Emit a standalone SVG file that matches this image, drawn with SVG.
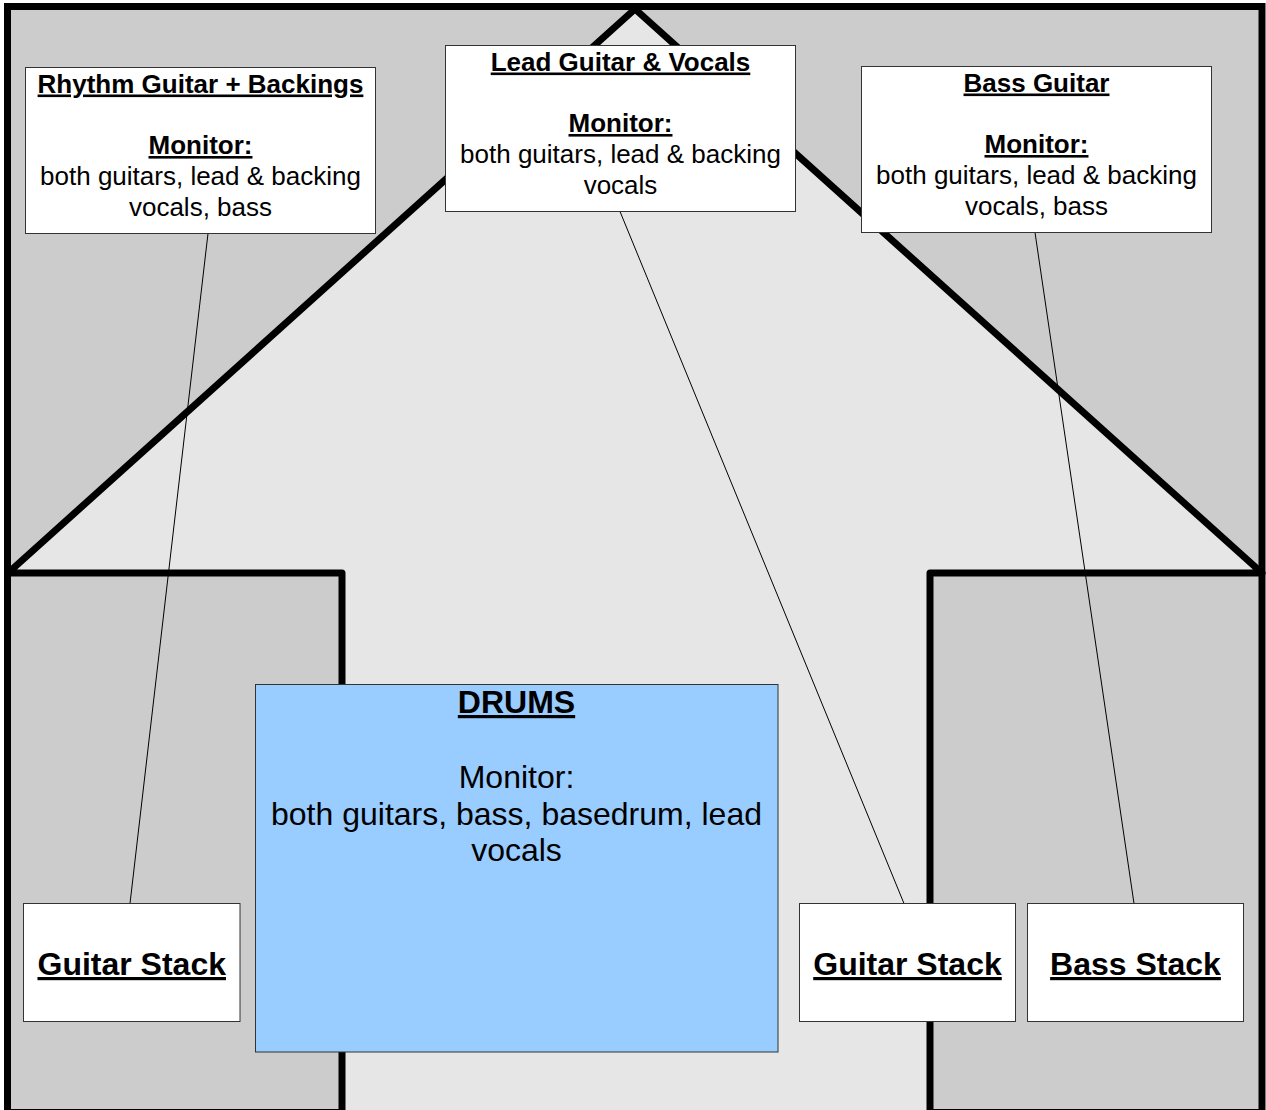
<svg xmlns="http://www.w3.org/2000/svg" width="1266" height="1110" viewBox="0 0 1266 1110">
<style>
.box{fill:#ffffff;stroke:#333333;stroke-width:1}
.drums{fill:#99ccff;stroke:#333333;stroke-width:1}
.t{font-family:"Liberation Sans",Arial,sans-serif;fill:#000000;text-anchor:middle}
.s{font-size:26px}
.b{font-weight:bold;text-decoration:underline}
.d{font-size:32px}
.g{font-size:32px}
.conn{stroke:#000000;stroke-width:1;fill:none}
</style>
<rect x="0" y="0" width="1266" height="1110" fill="#ffffff"/>
<g id="stage">
<rect x="7.5" y="6.5" width="1254.5" height="1106" fill="#cccccc" stroke="#000000" stroke-width="7"/>
<polygon points="635,9 1262,573 930,573 930,1115 342,1115 342,573 8,573" fill="#e6e6e6" stroke="#000000" stroke-width="7" stroke-linejoin="round"/>
</g>
<g id="connectors">
<line class="conn" x1="208" y1="233.5" x2="130" y2="903.5"/>
<line class="conn" x1="620" y1="211.5" x2="904" y2="903.5"/>
<line class="conn" x1="1035" y1="232.5" x2="1134" y2="903.5"/>
</g>
<g id="rhythm">
<rect class="box" x="25.5" y="67.5" width="350" height="166"/>
<text class="t s b" x="200.5" y="92.5">Rhythm Guitar + Backings</text>
<text class="t s b" x="200.5" y="154">Monitor:</text>
<text class="t s" x="200.5" y="185">both guitars, lead &amp; backing</text>
<text class="t s" x="200.5" y="215.5">vocals, bass</text>
</g>
<g id="lead">
<rect class="box" x="445.5" y="45.5" width="350" height="166"/>
<text class="t s b" x="620.5" y="70.5">Lead Guitar &amp; Vocals</text>
<text class="t s b" x="620.5" y="132">Monitor:</text>
<text class="t s" x="620.5" y="163">both guitars, lead &amp; backing</text>
<text class="t s" x="620.5" y="193.5">vocals</text>
</g>
<g id="bass">
<rect class="box" x="861.5" y="66.5" width="350" height="166"/>
<text class="t s b" x="1036.5" y="91.5">Bass Guitar</text>
<text class="t s b" x="1036.5" y="153">Monitor:</text>
<text class="t s" x="1036.5" y="184">both guitars, lead &amp; backing</text>
<text class="t s" x="1036.5" y="214.5">vocals, bass</text>
</g>
<g id="drums">
<rect class="drums" x="255.5" y="684.5" width="522.5" height="367.5"/>
<text class="t d b" x="516.5" y="713">DRUMS</text>
<text class="t d" x="516.5" y="788">Monitor:</text>
<text class="t d" x="516.5" y="825">both guitars, bass, basedrum, lead</text>
<text class="t d" x="516.5" y="861">vocals</text>
</g>
<g id="guitar-stack-left">
<rect class="box" x="23.5" y="903.5" width="216.5" height="118"/>
<text class="t g b" x="131.75" y="975">Guitar Stack</text>
</g>
<g id="guitar-stack-right">
<rect class="box" x="799.5" y="903.5" width="216" height="118"/>
<text class="t g b" x="907.5" y="975">Guitar Stack</text>
</g>
<g id="bass-stack">
<rect class="box" x="1027.5" y="903.5" width="216" height="118"/>
<text class="t g b" x="1135.5" y="975">Bass Stack</text>
</g>
</svg>
